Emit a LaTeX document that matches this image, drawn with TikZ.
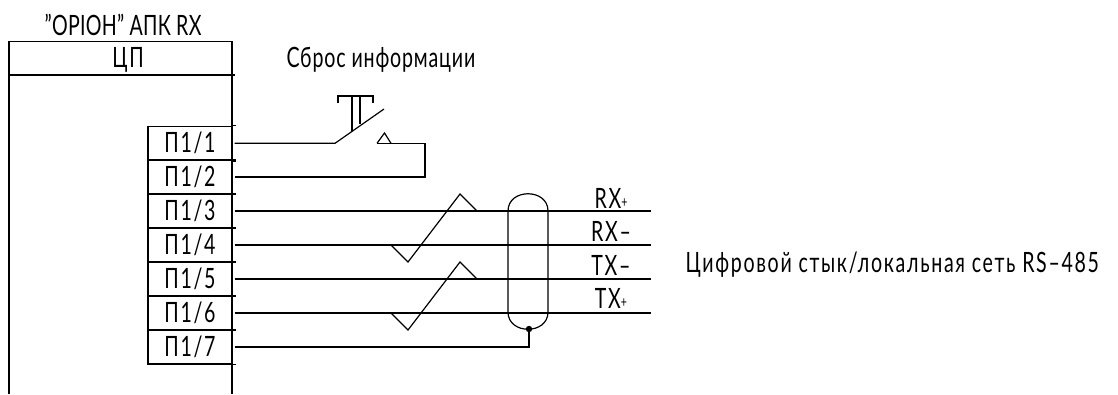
\documentclass[tikz,border=0pt]{standalone}
\usepackage{fontspec}
\setmainfont[FakeStretch=0.7,LetterSpace=6]{Lato}
\usetikzlibrary{positioning}
\tikzset{
    pin/.style={draw, minimum width=84pt, minimum height=34pt, inner sep=0pt, font=\fontsize{28}{30}\selectfont},
    txt/.style={inner sep=0pt, font=\fontsize{28}{30}\selectfont},
    wire/.style={line width=1.2pt},
}

\begin{document}
\begin{tikzpicture}[x=1pt, y=-1pt, line width=1.2pt]
    \useasboundingbox (0,0) rectangle (1118,394);
    \draw (9,394)--(9,41.5)--(232,41.5)--(232,394);
    \draw (9,75)--(235,75);
    \node[txt] (title) at (123,25) {\addfontfeatures{LetterSpace=1}"ОРІОН" АПК RX};
    \node[txt] (cpu) at (128,60) {ЦП};
    \node[txt] (reset) at (381,60) {\addfontfeatures{LetterSpace=3}Сброс информации};
    % terminals
    \foreach \i/\y in {1/143.3, 2/177, 3/211, 4/245, 5/279, 6/313, 7/347}{
        \node[pin] (p\i) at (190,\y) {П1/\i};
        \draw ([xshift=3pt]p\i.north east)--(p\i.north east);
        \draw ([xshift=3pt]p\i.south east)--(p\i.south east);
    }
    % button
    \coordinate (k1) at (335,143.3);
    \coordinate (k2) at (384,109);
    \coordinate (k3) at (377,143.3);
    \coordinate (k4) at (425,143.3);
    \coordinate (k5) at (425,177);
    \draw[wire] ([xshift=2pt]p1.east)--(k1)--(k2);
    \draw[wire] (k3)--(384.5,133)--(391,143.3);
    \draw[wire] (k3)--(k4)--(k5)--([xshift=2pt]p2.east);
    \draw[wire] (352,131)--(352,96) (360,124)--(360,96);
    \draw[wire] (338,103)--(338,96)--(373,96)--(373,103);
    % lines
    \foreach \i/\y in {3/211, 4/245, 5/279, 6/313}{
        \coordinate (e\i) at (651,\y);
        \draw[wire] ([xshift=2pt]p\i.east)--(e\i);
    }
    \node[txt] (rxp) at (611,198) {RX\raisebox{1pt}{\fontsize{15}{15}\selectfont +}};
    \node[txt] (rxm) at (611,231) {RX--};
    \node[txt] (txm) at (611,265) {TX--};
    \node[txt] (txp) at (611,298) {TX\raisebox{1pt}{\fontsize{15}{15}\selectfont +}};
    \node[txt, anchor=west] (net) at (685,265) {Цифровой стык/локальная сеть RS--485};
    % twists
    \draw[wire] (391,245)--(408,262)--(460,194)--(477,211);
    \draw[wire] (391,313)--(408,330)--(460,262)--(477,279);
    % shield
    \draw[wire] (508,211) .. controls (508,188) and (548,188) .. (548,211)--(548,312) .. controls (548,335) and (508,335) .. (508,312)--cycle;
    \coordinate (sh) at (529,329);
    \fill (sh) circle (3.2pt);
    \draw[wire] ([xshift=2pt]p7.east)-|(sh);
\end{tikzpicture}
\end{document}
